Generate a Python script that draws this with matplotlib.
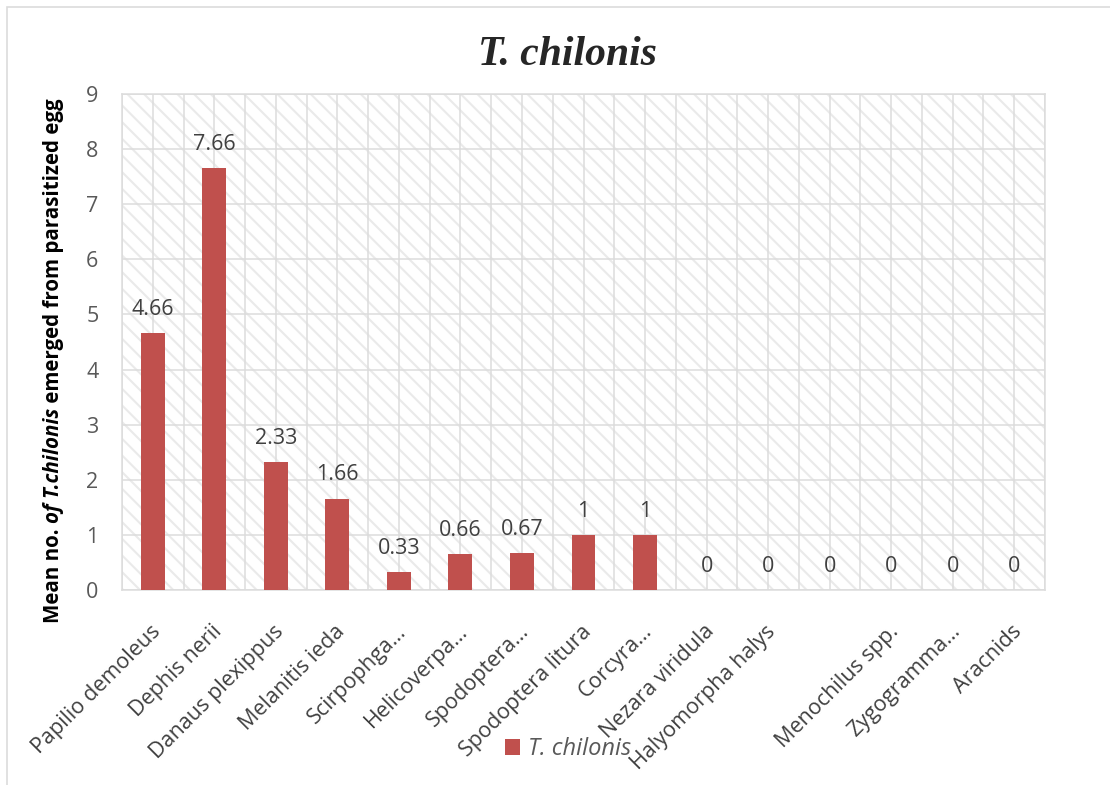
import matplotlib
matplotlib.use("Agg")
import matplotlib.pyplot as plt
from matplotlib.patches import Rectangle
from matplotlib.ticker import FixedLocator
from matplotlib.transforms import offset_copy

# Host species tested and mean number of T. chilonis emerged per parasitized egg
species = [
    "Papilio demoleus", "Dephis nerii", "Danaus plexippus", "Melanitis ieda",
    "Scirpophga…", "Helicoverpa…", "Spodoptera…", "Spodoptera litura",
    "Corcyra…", "Nezara viridula", "Halyomorpha halys", "",
    "Menochilus spp.", "Zygogramma…", "Aracnids",
]
emerged = [4.66, 7.66, 2.33, 1.66, 0.33, 0.66, 0.67, 1, 1, 0, 0, 0, 0, 0, 0]
value_labels = ["4.66", "7.66", "2.33", "1.66", "0.33", "0.66", "0.67",
                "1", "1", "0", "0", "0", "0", "0", "0"]
y_ticks = list(range(0, 10))
series_name = "T. chilonis"

BAR = "#C0504D"
GRID = "#DCDCDC"
TXT = "#595959"
SANS = ["Open Sans", "DejaVu Sans"]

plt.rcParams["hatch.linewidth"] = 1.5

fig = plt.figure(figsize=(11.10, 7.85), dpi=100)
W, H = 1110, 785

# outer chart frame
fig.patches.append(Rectangle((6.5 / W, -0.1), 1.2, 1 - 7 / H + 0.1,
                             transform=fig.transFigure, fill=False,
                             edgecolor=GRID, linewidth=1.2, zorder=0))

ax = fig.add_axes([122 / W, 1 - 590 / H, (1045 - 122) / W, (590 - 94) / H])
ax.set_xlim(-0.5, len(species) - 0.5)
ax.set_ylim(0, 9)

# hatched plot-area background
ax.add_patch(Rectangle((0, 0), 1, 1, transform=ax.transAxes, facecolor="white",
                       hatch="\\\\", edgecolor="#EAEAEA", linewidth=0, zorder=0))

x = list(range(len(species)))
bars = ax.bar(x, emerged, width=0.39, color=BAR, zorder=3, label=series_name)

for xi, v, lab in zip(x, emerged, value_labels):
    ax.annotate(lab, (xi, v), xytext=(0, 13), textcoords="offset points",
                ha="center", va="baseline", fontsize=15.5, color="#404040",
                family=SANS)

ax.set_yticks(y_ticks)
ax.set_yticklabels([str(t) for t in y_ticks], fontsize=15.5, color=TXT, family=SANS)
ax.set_xticks(x)
ax.set_xticklabels([])
ax.xaxis.set_minor_locator(FixedLocator([i - 0.5 for i in range(len(species) + 1)]))
ax.tick_params(axis="both", which="both", length=0)
ax.tick_params(axis="y", pad=17)

# rotated category labels hang from a point just below each tick
label_tf = offset_copy(ax.get_xaxis_transform(), fig=fig, x=-3, y=-31, units="dots")
for xi, name in zip(x, species):
    ax.text(xi, 0, name, transform=label_tf, rotation=45, rotation_mode="anchor",
            ha="right", va="top", fontsize=15.5, color="#404040", family=SANS,
            clip_on=False)

ax.set_axisbelow(True)
ax.grid(True, axis="y", which="major", color=GRID, linewidth=1.1)
ax.grid(True, axis="x", which="both", color=GRID, linewidth=1.1)
for s in ax.spines.values():
    s.set_color(GRID)
    s.set_linewidth(1.1)

# title
fig.text(567.5 / W, 1 - 65 / H, "T. chilonis", ha="center", va="baseline",
         fontsize=30, fontweight="bold", fontstyle="italic",
         family=["Liberation Serif", "DejaVu Serif"], color="#262626")

# y-axis title assembled from upright and italic pieces
pieces = [("Mean no. ", "normal"), ("of T.chilonis", "italic"),
          (" emerged from parasitized egg", "normal")]
fig.canvas.draw()
renderer = fig.canvas.get_renderer()
probe_len = 0.0
for txt, style in pieces:
    t = fig.text(0, 0, txt, rotation=90, fontsize=13, fontweight="bold",
                 fontstyle=style, family=SANS)
    probe_len += t.get_window_extent(renderer).height
    t.remove()
ylab_size = 13 * 523.0 / probe_len

ypos = 623.0
base_x = 59.0
for txt, style in pieces:
    t = fig.text(base_x / W, 1 - ypos / H, txt, rotation=90,
                 rotation_mode="anchor", ha="left", va="baseline",
                 fontsize=ylab_size, fontweight="bold", fontstyle=style,
                 family=SANS, color="black")
    ypos -= t.get_window_extent(renderer).height

# legend
leg = fig.legend(handles=[bars], labels=[series_name], loc="center",
                 bbox_to_anchor=(568 / W, 1 - 749 / H), frameon=False,
                 handlelength=0.65, handleheight=0.65, handletextpad=0.35,
                 prop={"family": SANS, "size": 17, "style": "italic"})
for t in leg.get_texts():
    t.set_color(TXT)

fig.savefig("out.png", dpi=100, facecolor="white")
